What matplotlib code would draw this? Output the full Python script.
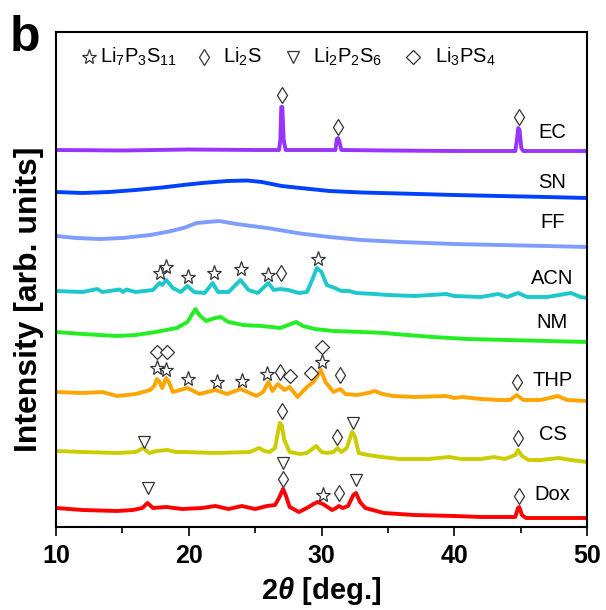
import matplotlib
matplotlib.use("Agg")
import matplotlib.pyplot as plt
import numpy as np

plt.rcParams["font.family"] = ["Liberation Sans", "DejaVu Sans"]
plt.rcParams["mathtext.fontset"] = "custom"
plt.rcParams["mathtext.rm"] = "Liberation Sans"
plt.rcParams["mathtext.it"] = "Liberation Sans:italic"
plt.rcParams["mathtext.bf"] = "Liberation Sans:bold"
plt.rcParams["mathtext.bfit"] = "Liberation Sans:bold:italic"

# XRD patterns: (2theta, stacked intensity [a.u.])
EC = [(10, 377), (15, 376.5), (20, 377.5), (25, 377), (26.8, 377), (26.9, 387), (26.97, 420),
      (27.05, 420), (27.15, 387), (27.3, 377), (31.05, 377), (31.15, 388), (31.25, 389),
      (31.35, 385), (31.5, 377), (35, 376.5), (40, 376), (44.6, 376), (44.72, 387),
      (44.82, 399), (44.92, 397), (45.05, 379), (45.2, 376), (50, 376)]
SN = [(10, 335), (12, 334), (14, 335), (16, 337), (18, 339.5), (19.6, 342), (21, 344),
      (22.9, 346), (24.4, 346.5), (25.5, 345), (27, 341), (28.4, 339), (30.6, 336),
      (33, 334.5), (35.9, 333.5), (40, 332), (43.4, 331), (47, 330), (50, 329)]
FF = [(10, 291), (11.5, 289), (13.3, 288), (15, 289), (17.1, 292), (18.5, 295.5), (19.6, 299),
      (20.6, 304), (22.3, 306), (23.6, 303), (25.9, 299), (28.4, 293.5), (30.6, 290),
      (33, 287), (35.9, 285), (40, 283), (43.4, 282), (47, 281), (50, 280)]
ACN = [(10, 236), (12, 235), (13.1, 238), (13.5, 235), (14.8, 237.5), (15.05, 235), (15.3, 237.5),
       (16, 235), (17.3, 237), (17.8, 244), (18.0, 242), (18.3, 247), (18.8, 239), (19.4, 235),
       (19.9, 241), (20.4, 235), (21.2, 234), (21.8, 244), (22.2, 235), (23, 235), (23.9, 247),
       (24.5, 237), (25.2, 234), (26.0, 244), (26.4, 237), (26.9, 238), (27.5, 237), (28.3, 234),
       (28.9, 235), (29.3, 247), (29.65, 259), (30.0, 255), (30.4, 242), (31.0, 239), (31.5, 236),
       (32.1, 236), (32.6, 234), (34, 233), (35, 232), (37, 231), (39.4, 233), (40, 231),
       (42, 230), (43.3, 233), (44, 230), (44.8, 234), (45.5, 230), (47, 230), (48.8, 234),
       (49.5, 230), (50, 229)]
NM = [(10, 195), (12, 193), (14.6, 191), (16, 192), (17.5, 195), (19.1, 199), (19.9, 205),
      (20.5, 218), (20.8, 212), (21.3, 206), (22.0, 209), (22.4, 210), (23.0, 205), (24.1, 202),
      (25.5, 201), (26.9, 199), (27.5, 202), (28.1, 205), (28.6, 201), (29.5, 198), (30.9, 196),
      (33, 195), (34.8, 194), (35.5, 193), (38.4, 190), (41, 188), (44, 187), (47, 186), (50, 185)]
THP = [(10, 135), (12, 134), (13.5, 135), (14.6, 131), (16, 133), (17.1, 137), (17.4, 141),
       (17.6, 148), (17.8, 145), (18.0, 139), (18.3, 149), (18.5, 145), (18.8, 135), (19.9, 139),
       (20.8, 133), (22.0, 137), (22.9, 133), (23.9, 138), (25.1, 131), (25.6, 135), (26.0, 145),
       (26.3, 136), (26.7, 143), (27.2, 137), (27.6, 140), (28.2, 130), (28.9, 140), (29.4, 145),
       (29.7, 151), (29.95, 157), (30.3, 145), (30.9, 135), (31.4, 138), (31.8, 133), (32.7, 132),
       (33.5, 134), (34.0, 136), (34.6, 133), (35.4, 131), (37, 130), (39.4, 131), (40, 129),
       (40.6, 130), (42, 128), (43.4, 127), (44.2, 127), (44.7, 132), (45.2, 127), (46.5, 127),
       (47.8, 131), (48.5, 127), (50, 126)]
CS = [(10, 76), (12, 75), (14.6, 74), (16.0, 75), (16.6, 79), (17.0, 74), (17.6, 76), (18.4, 77),
      (19.0, 75), (19.6, 75), (22, 74), (24.6, 75), (25.3, 79), (25.7, 76), (26.1, 75), (26.5, 79),
      (26.85, 104), (27.0, 102), (27.2, 87), (27.6, 75), (28.4, 73), (28.9, 74), (29.6, 81),
      (30.0, 75), (30.4, 74), (30.9, 75), (31.2, 79), (31.5, 75), (31.9, 79), (32.3, 95),
      (32.5, 91), (32.8, 74), (33.5, 72), (34.5, 70), (35.9, 68), (38, 68), (39.6, 70),
      (40.5, 68), (42, 68), (43.0, 70), (43.8, 68), (44.6, 72), (44.8, 77), (45.1, 71),
      (45.6, 67), (46.5, 67), (47.9, 69), (48.8, 67), (50, 65)]
DOX = [(10, 19), (12, 17), (14.6, 16), (15.8, 17), (16.5, 19), (16.9, 24), (17.3, 19), (18.3, 20),
       (19.5, 18), (21, 19), (22.0, 21), (23, 18), (24.0, 21), (25, 18), (25.9, 21), (26.5, 22),
       (26.8, 29), (27.1, 38), (27.3, 32), (27.6, 20), (28.3, 15), (28.9, 19), (29.4, 23),
       (29.7, 25), (30.1, 23), (30.8, 17), (31.1, 19), (31.3, 21), (31.6, 19), (32.0, 21),
       (32.4, 32), (32.6, 34), (32.9, 25), (33.3, 19), (34.7, 14), (37, 12), (40, 11), (42, 10),
       (44.6, 10), (44.8, 19), (44.9, 20), (45.1, 12), (45.4, 9), (47, 9), (50, 9)]

NAMES = ["EC", "SN", "FF", "ACN", "NM", "THP", "CS", "Dox"]
PATTERNS = [EC, SN, FF, ACN, NM, THP, CS, DOX]
COLORS = ["#9933FF", "#0040FF", "#7F9CFF", "#1CC8CC", "#22EE22", "#FFA500", "#CCCC00", "#FF0000"]
LABEL_Y = [394, 345, 304, 249, 204, 146, 92, 33]

# phase markers (2theta, height)
LI7P3S11 = [(17.8, 254), (18.3, 260), (19.95, 250), (21.9, 254), (23.95, 258), (25.95, 252),
            (29.7, 268), (17.6, 159), (18.3, 157), (19.95, 148), (22.1, 145), (24.0, 146),
            (25.9, 153), (30.0, 165), (30.1, 32)]
LI2S = [(27.0, 432), (31.25, 400), (44.85, 410), (26.95, 254), (26.85, 155), (31.4, 152),
        (44.7, 145), (27.0, 116), (31.2, 90), (44.8, 89), (27.1, 48), (31.3, 34), (44.9, 31)]
LI2P2S6 = [(16.6, 85), (32.35, 104), (16.95, 39), (27.1, 64), (32.6, 47)]
LI3PS4 = [(17.6, 175), (18.35, 175), (27.6, 151), (29.2, 154), (30.0, 180)]

MK = dict(ls="none", mfc="white", mec="#333333", mew=0.9, zorder=5)
STYLES = {"star": dict(marker="*", ms=11), "li2s": dict(marker="d", ms=8.2),
          "tri": dict(marker="v", ms=9), "dia": dict(marker="D", ms=7.6)}

fig = plt.figure(figsize=(6.06, 6.10), dpi=100)
ax = fig.add_axes([56 / 606, 83 / 610, 531 / 606, 495 / 610])

for name, pat, col, ly in zip(NAMES, PATTERNS, COLORS, LABEL_Y):
    a = np.array(pat)
    ax.plot(a[:, 0], a[:, 1], color=col, lw=2.8, solid_joinstyle="round")
    ax.text(47.4, ly, name, fontsize=14.5, ha="center", va="center")

for pts, key in [(LI7P3S11, "star"), (LI2S, "li2s"), (LI2P2S6, "tri"), (LI3PS4, "dia")]:
    a = np.array(pts)
    ax.plot(a[:, 0], a[:, 1], **STYLES[key], **MK)

# legend row along the top
leg = [("star", 0.062, 0.083, r"Li$_7$P$_3$S$_{11}$"),
       ("li2s", 0.279, 0.3145, r"Li$_2$S"),
       ("tri", 0.446, 0.484, r"Li$_2$P$_2$S$_6$"),
       ("dia", 0.672, 0.714, r"Li$_3$PS$_4$")]
for key, mx, tx, lab in leg:
    ax.plot([mx], [0.949], transform=ax.transAxes, clip_on=False, **STYLES[key], **MK)
    ax.text(tx, 0.949, lab, transform=ax.transAxes, fontsize=14.5, ha="left", va="center")

ax.set_xlim(10, 50)
ax.set_ylim(0, 495)
ax.set_yticks([])
ax.set_xticks([10, 20, 30, 40, 50])
ax.set_xticks([15, 25, 35, 45], minor=True)
ax.tick_params(axis="x", which="major", direction="out", length=6.5, width=1.2,
               labelsize=18, pad=6)
ax.tick_params(axis="x", which="minor", direction="out", length=4.5, width=1.2)
for lab in ax.get_xticklabels():
    lab.set_fontweight("bold")
for sp in ax.spines.values():
    sp.set_linewidth(1.5)

ax.set_xlabel(r"2$\mathbfit{\theta}$ [deg.]", fontsize=21, fontweight="bold")
ax.xaxis.set_label_coords(0.5, -0.097)
ax.set_ylabel("Intensity [arb. units]", fontsize=23, fontweight="bold")
ax.yaxis.set_label_coords(-0.022, 0.46)

fig.text(10 / 606, 1 - 51 / 610, "b", fontsize=36, fontweight="bold", ha="left", va="baseline")

fig.savefig("out.png", dpi=100)
